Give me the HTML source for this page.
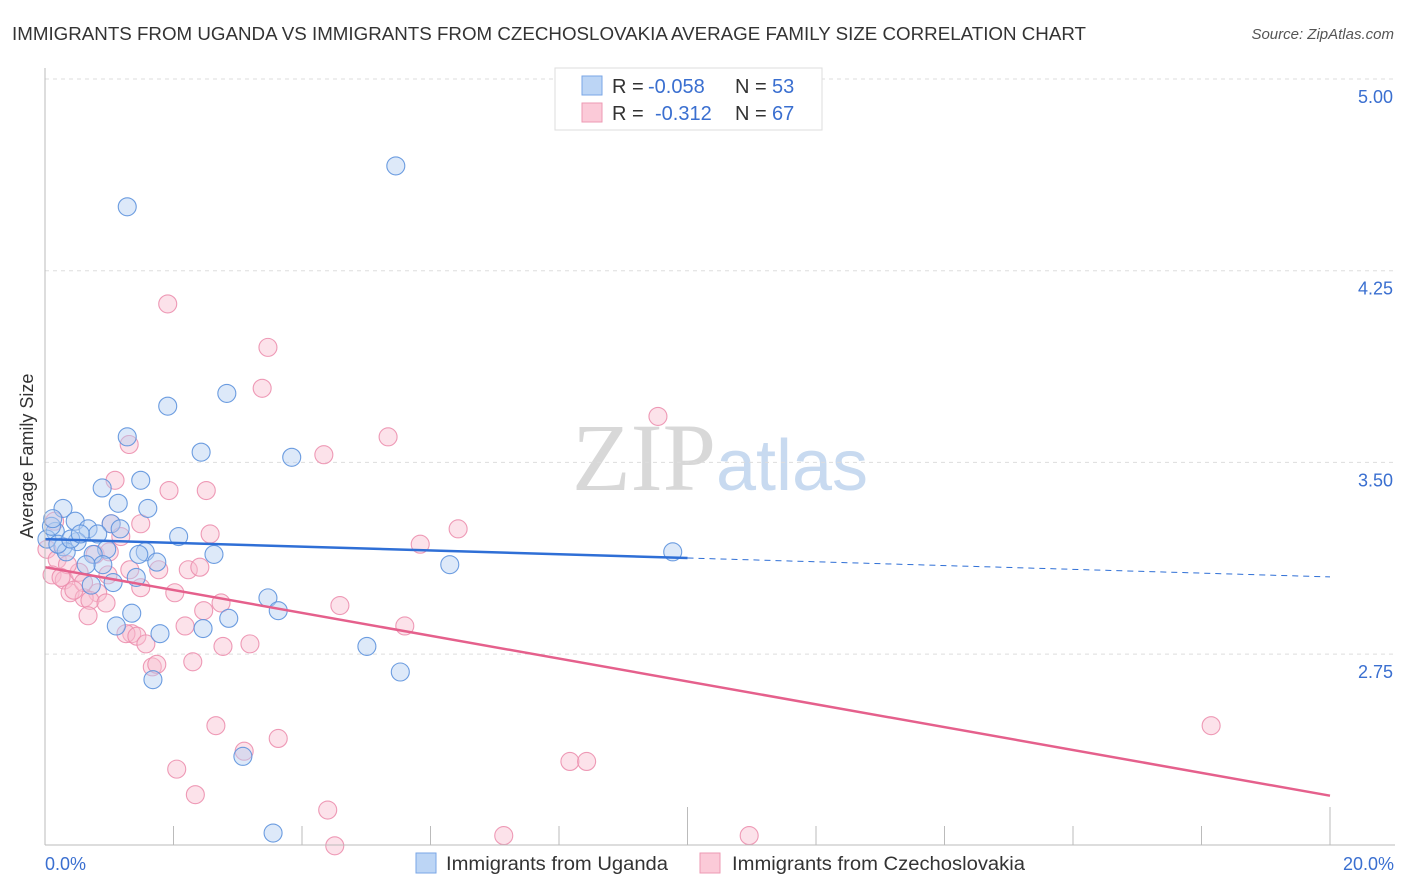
<!DOCTYPE html>
<html><head><meta charset="utf-8"><style>
body{margin:0;background:#fff;font-family:"Liberation Sans",sans-serif}
svg{display:block}
</style></head><body>
<svg id="c" width="1406" height="892">
<text x="12" y="40" font-size="18" fill="#333" textLength="1074" lengthAdjust="spacingAndGlyphs">IMMIGRANTS FROM UGANDA VS IMMIGRANTS FROM CZECHOSLOVAKIA AVERAGE FAMILY SIZE CORRELATION CHART</text>
<text x="1394" y="39" font-size="15" fill="#555" font-style="italic" text-anchor="end">Source: ZipAtlas.com</text>
<text x="720" y="490" font-size="96" fill="#ddd" text-anchor="middle" font-family="Liberation Serif,serif"><tspan fill="#d8d8d8">ZIP</tspan><tspan fill="#c8daf0" font-family="Liberation Sans,sans-serif" font-size="72">atlas</tspan></text>
<text transform="translate(33,456) rotate(-90)" font-size="18" fill="#333" text-anchor="middle">Average Family Size</text>
<g id="grid"></g><g id="pts"></g><g id="lines"></g>
<line x1="45" y1="68" x2="45" y2="845" stroke="#bbb"/>
<line x1="45" y1="845" x2="1395" y2="845" stroke="#bbb"/>
<text x="45" y="870" font-size="18" fill="#3a6fd0">0.0%</text>
<text x="1394" y="870" font-size="18" fill="#3a6fd0" text-anchor="end">20.0%</text>
<g>
<rect x="555" y="68" width="267" height="62" fill="#fff" stroke="#ddd"/>
<rect x="582" y="76" width="20" height="19" fill="#bcd5f5" stroke="#7aa6e6"/>
<rect x="582" y="103" width="20" height="19" fill="#fbcad8" stroke="#ee99b3"/>
<text x="612" y="93" font-size="20" fill="#333">R =<tspan x="648" fill="#3a6fd0">-0.058</tspan><tspan x="735">N =</tspan><tspan x="772" fill="#3a6fd0">53</tspan></text>
<text x="612" y="120" font-size="20" fill="#333">R =<tspan x="655" fill="#3a6fd0">-0.312</tspan><tspan x="735">N =</tspan><tspan x="772" fill="#3a6fd0">67</tspan></text>
</g>
<g>
<rect x="416" y="853" width="20" height="20" fill="#bcd5f5" stroke="#7aa6e6"/>
<text x="446" y="870" font-size="19" fill="#333" textLength="222" lengthAdjust="spacingAndGlyphs">Immigrants from Uganda</text>
<rect x="700" y="853" width="20" height="20" fill="#fbcad8" stroke="#ee99b3"/>
<text x="732" y="870" font-size="19" fill="#333" textLength="293" lengthAdjust="spacingAndGlyphs">Immigrants from Czechoslovakia</text>
</g>
</svg>
<script>
const yTicks=[5.00,4.25,3.50,2.75];
const xTickCount=10;
const blueX=[1.28,5.46,1.91,2.83,1.28,2.43,3.84,1.49,0.89,1.14,1.60,0.28,0.47,1.03,0.67,1.17,2.08,0.82,0.16,0.03,0.50,0.28,0.33,0.96,1.56,1.46,2.63,0.75,1.74,0.90,0.64,6.30,9.77,1.42,1.06,0.72,3.47,1.35,3.63,2.86,1.11,2.46,1.79,5.01,5.53,1.68,3.08,3.55,0.10,0.20,0.40,0.55,0.12];
const blueY=[4.50,4.66,3.72,3.77,3.60,3.54,3.52,3.43,3.40,3.34,3.32,3.32,3.27,3.26,3.24,3.24,3.21,3.22,3.23,3.20,3.19,3.17,3.15,3.16,3.15,3.14,3.14,3.14,3.11,3.10,3.10,3.10,3.15,3.05,3.03,3.02,2.97,2.91,2.92,2.89,2.86,2.85,2.83,2.78,2.68,2.65,2.35,2.05,3.25,3.18,3.20,3.22,3.28];
const pinkX=[1.91,3.47,3.38,1.31,5.34,4.34,9.54,1.09,1.93,2.51,6.43,1.03,1.49,2.57,1.18,5.84,0.78,0.03,0.19,0.11,0.30,0.53,2.23,1.77,2.41,1.32,0.98,0.82,2.02,1.49,0.39,0.61,0.70,0.95,2.74,2.47,4.59,2.18,5.60,1.35,0.67,1.26,1.43,1.57,2.77,3.19,2.30,1.67,1.74,2.66,3.63,3.10,2.05,2.34,4.40,8.17,8.43,18.15,4.51,7.14,10.96,0.15,0.35,0.60,0.45,1.00,0.25];
const pinkY=[4.12,3.95,3.79,3.57,3.60,3.53,3.68,3.43,3.39,3.39,3.24,3.26,3.26,3.22,3.21,3.18,3.14,3.16,3.12,3.06,3.04,3.07,3.08,3.08,3.09,3.08,3.06,2.99,2.99,3.01,2.99,2.97,2.96,2.95,2.95,2.92,2.94,2.86,2.86,2.83,2.90,2.83,2.82,2.79,2.78,2.79,2.72,2.70,2.71,2.47,2.42,2.37,2.30,2.20,2.14,2.33,2.33,2.47,2.00,2.04,2.04,3.27,3.10,3.03,3.00,3.15,3.05];
const blueFit=[3.2,-0.0074];
const pinkFit=[3.09,-0.0447];
const X=v=>45+v*64.25, Y=v=>79+(5-v)*255.6;
const ns="http://www.w3.org/2000/svg";
function mk(t,a,p){const e=document.createElementNS(ns,t);for(const k in a)e.setAttribute(k,a[k]);p.appendChild(e);return e;}
const G=document.getElementById('grid');
yTicks.forEach(v=>{const l=mk('line',{x1:45,x2:1395,y1:Y(v),y2:Y(v),stroke:'#ddd','stroke-dasharray':'4,4'},G);


const t=mk('text',{x:1393,y:Y(v)+24,'font-size':18,fill:'#3a6fd0','text-anchor':'end'},G);t.textContent=v.toFixed(2);

});
for(let i=1;i<=xTickCount;i++){const x=X(i*2);const l=mk('line',{x1:x,x2:x,y1:(i%5==0)?807:826,y2:845,stroke:'#bbb'},G);

}
const P=document.getElementById('pts');
function pts(xs,ys,f,s,name){xs.forEach((x,i)=>{const c=mk('circle',{cx:X(x),cy:Y(ys[i]),r:9,fill:f,'fill-opacity':0.45,stroke:s,'stroke-width':1.1,'stroke-opacity':0.9},P);

});}
pts(pinkX,pinkY,'#f9bfd0','#ec8fae','czechoslovakia-point');
pts(blueX,blueY,'#b4cff2','#5d92dd','uganda-point');
const L=document.getElementById('lines');
const f=(fit,x)=>fit[0]+fit[1]*x;
let a=mk('line',{x1:X(0),y1:Y(f(blueFit,0)),x2:X(10),y2:Y(f(blueFit,10)),stroke:'#2f6fd6','stroke-width':2.5},L);


let b=mk('line',{x1:X(10),y1:Y(f(blueFit,10)),x2:X(20),y2:Y(f(blueFit,20)),stroke:'#2f6fd6','stroke-width':1,'stroke-dasharray':'6,5'},L);


let c=mk('line',{x1:X(0),y1:Y(f(pinkFit,0)),x2:X(20),y2:Y(f(pinkFit,20)),stroke:'#e5608c','stroke-width':2.5},L);


</script>
</body></html>
